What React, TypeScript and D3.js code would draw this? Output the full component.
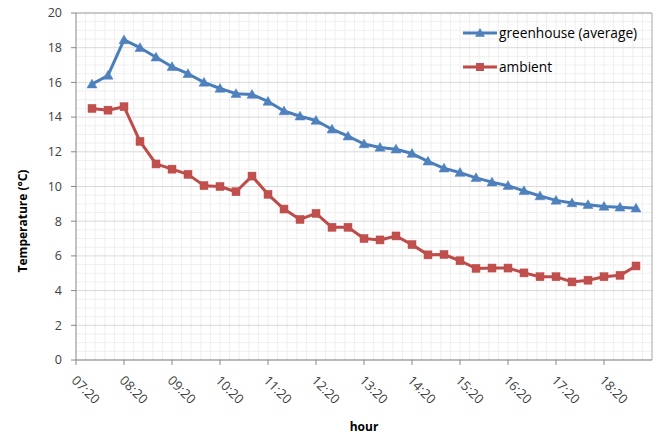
import React from "react";
import * as d3 from "d3";

const times = [
  "07:40","08:00","08:20","08:40","09:00","09:20","09:40","10:00","10:20","10:40",
  "11:00","11:20","11:40","12:00","12:20","12:40","13:00","13:20","13:40","14:00",
  "14:20","14:40","15:00","15:20","15:40","16:00","16:20","16:40","17:00","17:20",
  "17:40","18:00","18:20","18:40","19:00",
];
const greenhouse = [
  15.9, 16.4, 18.45, 18.0, 17.45, 16.9, 16.5, 16.0, 15.65, 15.35,
  15.3, 14.9, 14.35, 14.05, 13.8, 13.3, 12.9, 12.45, 12.25, 12.15,
  11.9, 11.45, 11.05, 10.8, 10.5, 10.25, 10.05, 9.75, 9.45, 9.2,
  9.05, 8.95, 8.85, 8.8, 8.75,
];
const ambient = [
  14.5, 14.4, 14.6, 12.6, 11.3, 11.0, 10.7, 10.05, 10.0, 9.7,
  10.6, 9.55, 8.7, 8.1, 8.45, 7.65, 7.65, 7.0, 6.92, 7.15,
  6.65, 6.06, 6.08, 5.72, 5.28, 5.3, 5.3, 5.02, 4.8, 4.8,
  4.5, 4.6, 4.8, 4.88, 5.42,
];
const xTickLabels = [
  "07:20","08:20","09:20","10:20","11:20","12:20","13:20","14:20","15:20","16:20","17:20","18:20",
];
const yTicks = [0, 2, 4, 6, 8, 10, 12, 14, 16, 18, 20];
const seriesNames = ["greenhouse (average)", "ambient"];

const toMin = (s: string) => {
  const [h, m] = s.split(":").map(Number);
  return h * 60 + m;
};

const FONT = "'Open Sans', 'Liberation Sans', sans-serif";

export default function App() {
  const W = 657, H = 434;
  const left = 76, right = 652, top = 13, bottom = 360;
  const x = d3.scaleLinear().domain([toMin("07:20"), toMin("19:20")]).range([left, right]);
  const y = d3.scaleLinear().domain([0, 20]).range([bottom, top]);

  const minorY = d3.range(0, 20.001, 0.5).filter((v) => Math.abs(v % 2) > 1e-6);
  const minorX = d3.range(toMin("07:20") + 12, toMin("19:20"), 12);

  const line = d3
    .line<number>()
    .x((_, i) => x(toMin(times[i])))
    .y((d) => y(d));

  const blue = "#4A7EBB";
  const blueM = "#4F81BD";
  const red = "#BE4B48";
  const redM = "#C0504D";

  const tri = (cx: number, cy: number, s = 5) =>
    `M${cx},${cy - s}L${cx + s},${cy + s * 0.75}L${cx - s},${cy + s * 0.75}Z`;

  return (
    <svg width={W} height={H} style={{ position: "absolute", left: 0, top: 0, background: "#fff" }}>
      <rect x={0} y={0} width={W} height={H} fill="#fff" />
      {minorX.map((m) => (
        <line key={"mx" + m} x1={x(m)} x2={x(m)} y1={top} y2={bottom} stroke="#efefef" strokeWidth={1} />
      ))}
      {minorY.map((v) => (
        <line key={"my" + v} x1={left} x2={right} y1={y(v)} y2={y(v)} stroke="#efefef" strokeWidth={1} />
      ))}
      {yTicks.map((v) => (
        <line key={"gy" + v} x1={left} x2={right} y1={y(v)} y2={y(v)} stroke="#d9d9d9" strokeWidth={1} />
      ))}
      <line x1={left} x2={right} y1={top} y2={top} stroke="#a6a6a6" />
      <line x1={right} x2={right} y1={top} y2={bottom} stroke="#a6a6a6" />
      <line x1={left} x2={left} y1={top} y2={bottom} stroke="#868686" />
      <line x1={left} x2={right} y1={bottom} y2={bottom} stroke="#868686" />
      {yTicks.map((v) => (
        <g key={"yt" + v}>
          <line x1={left - 5} x2={left} y1={y(v)} y2={y(v)} stroke="#868686" />
          <text x={62} y={y(v)} dy="0.35em" textAnchor="end" fontFamily={FONT} fontSize={12.5} fill="#404040">
            {v}
          </text>
        </g>
      ))}
      {xTickLabels.map((t) => {
        const px = x(toMin(t));
        return (
          <g key={"xt" + t}>
            <line x1={px} x2={px} y1={bottom} y2={bottom + 5} stroke="#868686" />
            <text
              transform={`translate(${px - 2},${bottom + 18}) rotate(45)`}
              dy="0.35em"
              textAnchor="start"
              fontFamily={FONT}
              fontSize={13}
              fill="#404040"
            >
              {t}
            </text>
          </g>
        );
      })}
      <text x={364} y={431} textAnchor="middle" fontFamily={FONT} fontSize={12} fontWeight="bold" fill="#000">
        hour
      </text>
      <text
        transform={`translate(27,221) rotate(-90)`}
        textAnchor="middle"
        fontFamily={FONT}
        fontSize={12}
        fontWeight="bold"
        fill="#000"
      >
        Temperature (°C)
      </text>
      <path d={line(greenhouse) || ""} fill="none" stroke={blue} strokeWidth={3} strokeLinejoin="round" />
      <path d={line(ambient) || ""} fill="none" stroke={red} strokeWidth={3} strokeLinejoin="round" />
      {greenhouse.map((v, i) => (
        <path key={"gm" + i} d={tri(x(toMin(times[i])), y(v))} fill={blueM} stroke={blue} strokeWidth={0.5} />
      ))}
      {ambient.map((v, i) => (
        <rect
          key={"am" + i}
          x={x(toMin(times[i])) - 4}
          y={y(v) - 4}
          width={8}
          height={8}
          fill={redM}
          stroke={red}
          strokeWidth={0.5}
        />
      ))}
      <g>
        <line x1={463} x2={497} y1={33} y2={33} stroke={blue} strokeWidth={3} />
        <path d={tri(480, 33)} fill={blueM} />
        <text x={499} y={37.5} fontFamily={FONT} fontSize={13.7} fill="#000">
          {seriesNames[0]}
        </text>
        <line x1={463} x2={497} y1={67} y2={67} stroke={red} strokeWidth={3} />
        <rect x={476} y={63} width={8} height={8} fill={redM} />
        <text x={499} y={71.5} fontFamily={FONT} fontSize={13.7} fill="#000">
          {seriesNames[1]}
        </text>
      </g>
    </svg>
  );
}
